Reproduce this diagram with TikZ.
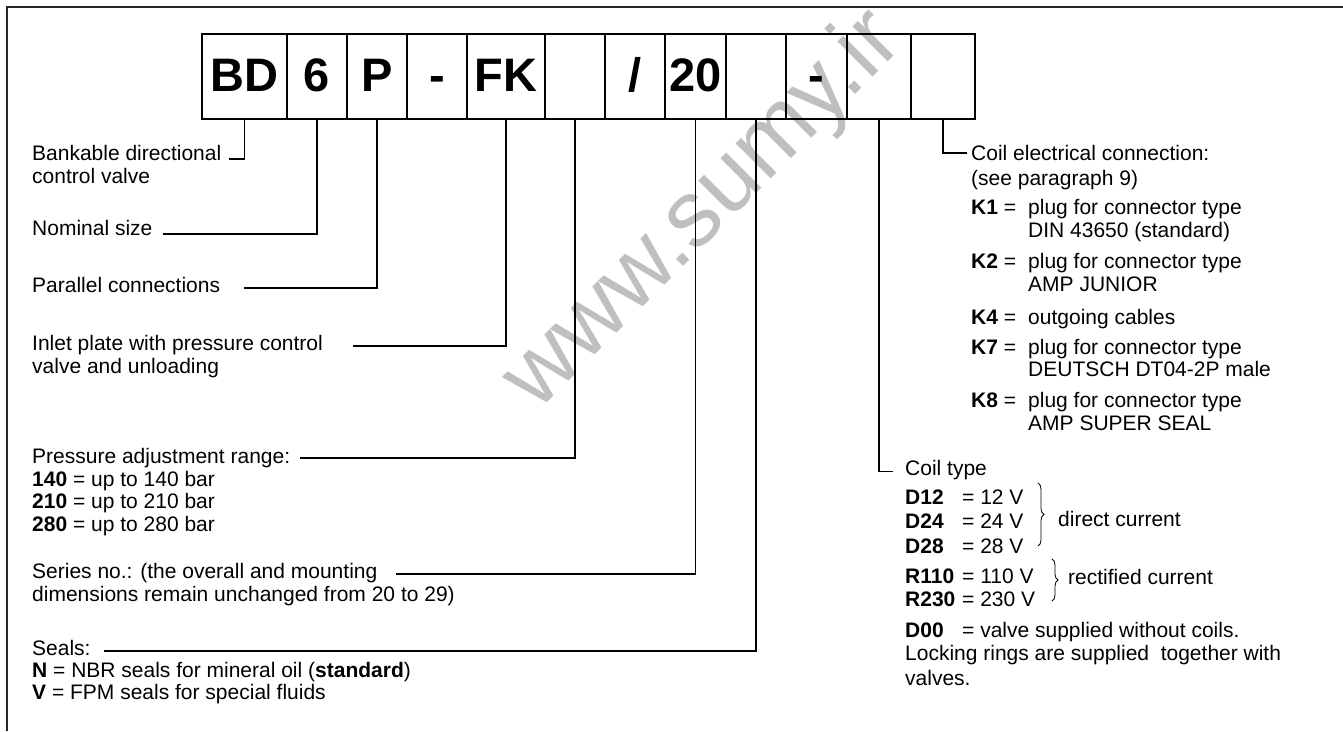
\documentclass[tikz,border=0pt]{standalone}
\usepackage{fontspec}
\setmainfont{Liberation Sans}
\usetikzlibrary{decorations.pathreplacing}
\begin{document}
\begin{tikzpicture}[x=1pt,y=-1pt,
  lbl/.style={anchor=base west, inner sep=0pt, font=\fontsize{21}{22}\selectfont},
  cbox/.style={draw, line width=1.1pt, minimum height=85pt, inner sep=0pt,
    text height=34pt, text depth=5pt, font=\fontsize{47}{47}\selectfont\bfseries},
  lead/.style={line width=1.1pt},
  brc/.style={decorate, decoration={brace, amplitude=6pt}, line width=0.8pt},
  wmark/.style={rotate=45, anchor=base west, inner sep=0pt, text=black!25,
    font=\fontsize{94}{94}\selectfont}]
\useasboundingbox (0,0) rectangle (1343,731);
% watermark
\node[wmark] (wm) at (537,413) {www.sumy.ir};
% frame
\draw[line width=1.2pt, black!85] (7,731) -- (7,7) -- (1343,7);
% code boxes
\node[cbox, minimum width=85pt] (b1) at (244.5,76.5) {BD};
\node[cbox, minimum width=60pt] (b2) at (317,76.5) {6};
\node[cbox, minimum width=60pt] (b3) at (377,76.5) {P};
\node[cbox, minimum width=60pt] (b4) at (437,76.5) {-};
\node[cbox, minimum width=78pt] (b5) at (506,76.5) {FK};
\node[cbox, minimum width=60pt] (b6) at (575,76.5) {};
\node[cbox, minimum width=60pt] (b7) at (635,76.5) {/};
\node[cbox, minimum width=61pt] (b8) at (695.5,76.5) {20};
\node[cbox, minimum width=60pt] (b9) at (756,76.5) {};
\node[cbox, minimum width=61pt] (b10) at (816.5,76.5) {-};
\node[cbox, minimum width=64pt] (b11) at (879,76.5) {};
\node[cbox, minimum width=64pt] (b12) at (943,76.5) {};
% left texts
\node[lbl] (t1a) at (32,160) {Bankable directional};
\node[lbl] (t1b) at (32,183) {control valve};
\node[lbl] (t2) at (32,235) {Nominal size};
\node[lbl] (t3) at (32,292) {Parallel connections};
\node[lbl] (t4a) at (32,350) {Inlet plate with pressure control};
\node[lbl] (t4b) at (32,373) {valve and unloading};
\node[lbl] (t5a) at (32,463) {Pressure adjustment range:};
\node[lbl] (t5b) at (32,486) {\textbf{140} = up to 140 bar};
\node[lbl] (t5c) at (32,508) {\textbf{210} = up to 210 bar};
\node[lbl] (t5d) at (32,531) {\textbf{280} = up to 280 bar};
\node[lbl] (t6a) at (32,578) {Series no.: (the overall and mounting};
\node[lbl] (t6b) at (32,601) {dimensions remain unchanged from 20 to 29)};
\node[lbl] (t7a) at (32,655) {Seals:};
\node[lbl] (t7b) at (32,677) {\textbf{N} = NBR seals for mineral oil (\textbf{standard})};
\node[lbl] (t7c) at (32,699) {\textbf{V} = FPM seals for special fluids};
% right upper texts
\node[lbl] (c1a) at (971,160) {Coil electrical connection:};
\node[lbl] (c1b) at (971,185) {(see paragraph 9)};
\node[lbl] (k1) at (971,214) {\textbf{K1} =};
\node[lbl] (k1a) at (1028,214) {plug for connector type};
\node[lbl] (k1b) at (1028,237) {DIN 43650 (standard)};
\node[lbl] (k2) at (971,268) {\textbf{K2} =};
\node[lbl] (k2a) at (1028,268) {plug for connector type};
\node[lbl] (k2b) at (1028,291) {AMP JUNIOR};
\node[lbl] (k4) at (971,324) {\textbf{K4} =};
\node[lbl] (k4a) at (1028,324) {outgoing cables};
\node[lbl] (k7) at (971,354) {\textbf{K7} =};
\node[lbl] (k7a) at (1028,354) {plug for connector type};
\node[lbl] (k7b) at (1028,376) {DEUTSCH DT04-2P male};
\node[lbl] (k8) at (971,407) {\textbf{K8} =};
\node[lbl] (k8a) at (1028,407) {plug for connector type};
\node[lbl] (k8b) at (1028,430) {AMP SUPER SEAL};
% right lower texts
\node[lbl] (ct) at (905,475) {Coil type};
\node[lbl] (d12) at (905,504) {\textbf{D12}};
\node[lbl] (d12v) at (962,504) {= 12 V};
\node[lbl] (d24) at (905,528.5) {\textbf{D24}};
\node[lbl] (d24v) at (962,528.5) {= 24 V};
\node[lbl] (d28) at (905,553) {\textbf{D28}};
\node[lbl] (d28v) at (962,553) {= 28 V};
\node[lbl] (r110) at (905,583) {\textbf{R110}};
\node[lbl] (r110v) at (962,583) {= 110 V};
\node[lbl] (r230) at (905,606) {\textbf{R230}};
\node[lbl] (r230v) at (962,606) {= 230 V};
\node[lbl] (d00) at (905,637) {\textbf{D00}};
\node[lbl] (d00v) at (962,637) {= valve supplied without coils.};
\node[lbl] (lk) at (905,660) {Locking rings are supplied\ \ together with};
\node[lbl] (vl) at (905,685) {valves.};
\node[lbl] (dc) at (1058,526) {direct current};
\node[lbl] (rc) at (1068,584) {rectified current};
% braces
\coordinate (br1t) at (1038,483);
\coordinate (br1b) at (1038,546);
\coordinate (br2t) at (1052,559);
\coordinate (br2b) at (1052,601);
\draw[brc] (br1t) -- (br1b);
\draw[brc] (br2t) -- (br2b);
% leader ends
\coordinate (e1) at (229,159);
\coordinate (e2) at (163,234);
\coordinate (e3) at (244,288);
\coordinate (e4) at (353,346);
\coordinate (e5) at (300,458);
\coordinate (e6) at (396,574);
\coordinate (e7) at (104,651);
\coordinate (e8) at (893,471.5);
\coordinate (e9) at (967,153);
% leaders
\draw[lead] (b1.south) |- (e1);
\draw[lead] (b2.south) |- (e2);
\draw[lead] (b3.south) |- (e3);
\draw[lead] (b5.south) |- (e4);
\draw[lead] (b6.south) |- (e5);
\draw[lead] (b8.south) |- (e6);
\draw[lead] (b9.south) |- (e7);
\draw[lead] (b11.south) |- (e8);
\draw[lead] (b12.south) |- (e9);
\end{tikzpicture}
\end{document}
